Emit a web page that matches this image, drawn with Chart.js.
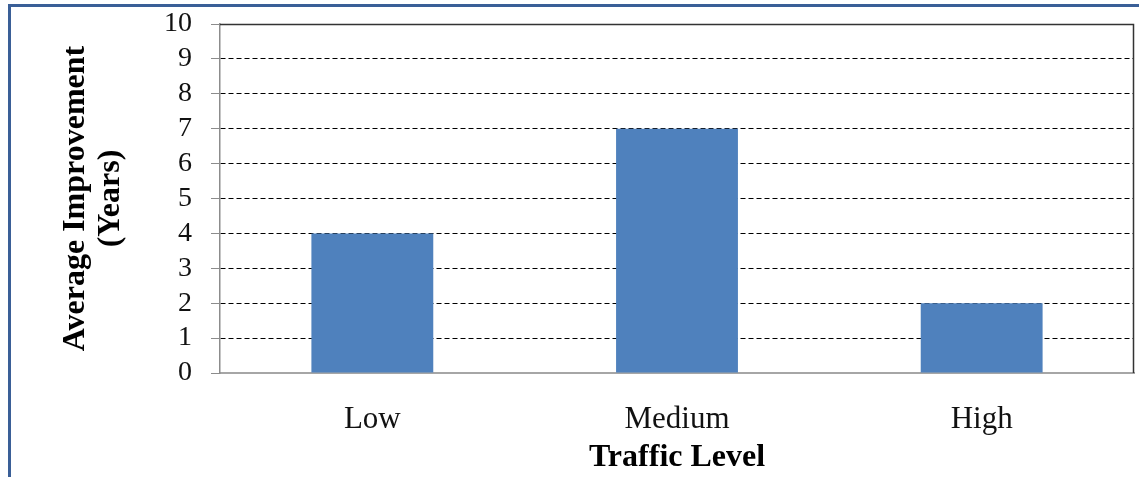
<!DOCTYPE html>
<html>
<head>
<meta charset="utf-8">
<script src="https://cdn.jsdelivr.net/npm/chart.js@4"></script>
<style>
html,body{margin:0;padding:0;background:#fff;}
#wrap{position:relative;width:1139px;height:477px;}
</style>
</head>
<body>
<div id="wrap"><canvas id="c" width="1139" height="477"></canvas></div>
<script>
const categories = ['Low', 'Medium', 'High'];
const improvementYears = [4, 7, 2];
const yTitle = ['Average Improvement', '(Years)'];
const xTitle = 'Traffic Level';
const yMin = 0, yMax = 10, yStep = 1;

const framePlugin = {
  id: 'frame',
  beforeDraw(chart) {
    const ctx = chart.ctx;
    ctx.save();
    ctx.fillStyle = '#3a5f97';
    ctx.fillRect(8, 4, 1139 - 8, 3);
    ctx.fillRect(8, 4, 3, 477 - 4);
    ctx.restore();
  },
  afterDraw(chart) {
    const a = chart.chartArea, ctx = chart.ctx;
    ctx.save();
    ctx.strokeStyle = '#333';
    ctx.lineWidth = 1.5;
    ctx.beginPath();
    ctx.moveTo(a.left, a.top + 0.5);
    ctx.lineTo(a.right - 0.5, a.top + 0.5);
    ctx.lineTo(a.right - 0.5, a.bottom);
    ctx.stroke();
    ctx.restore();
  }
};

new Chart(document.getElementById('c'), {
  type: 'bar',
  data: {
    labels: categories,
    datasets: [{
      data: improvementYears,
      backgroundColor: '#4f81bd',
      borderWidth: 0,
      categoryPercentage: 1.0,
      barPercentage: 0.4
    }]
  },
  options: {
    responsive: false,
    animation: false,
    devicePixelRatio: 1,
    layout: { padding: { left: 0, right: 5, top: 24, bottom: 0 } },
    plugins: { legend: { display: false }, tooltip: { enabled: false } },
    scales: {
      x: {
        afterFit(s) { s.height = 104; s.paddingLeft = 0; s.paddingRight = 0; },
        grid: { display: false, drawTicks: false },
        border: { display: true, color: '#a6a6a6', width: 2 },
        ticks: { color: '#111', padding: 28, font: { family: 'Liberation Serif', size: 31 } },
        title: {
          display: true, text: xTitle, color: '#000',
          padding: { top: 0, bottom: 1 },
          font: { family: 'Liberation Serif', size: 32, weight: 'bold', lineHeight: 1.15 }
        }
      },
      y: {
        min: yMin, max: yMax,
        afterFit(s) { s.width = 220; s.paddingTop = 0; s.paddingBottom = 0; },
        grid: {
          color: (c) => (c.tick && c.tick.value === 0) ? 'rgba(0,0,0,0)' : '#000',
          lineWidth: 1,
          drawTicks: true,
          tickLength: 9,
          tickColor: '#8c8c8c',
          tickBorderDash: []
        },
        border: { display: true, color: '#8c8c8c', width: 1.5, dash: [5, 3] },
        ticks: { stepSize: yStep, autoSkip: false, color: '#111', padding: 19, font: { family: 'Liberation Serif', size: 28 } },
        title: {
          display: true, text: yTitle, color: '#000',
          padding: { top: 58, bottom: 0 },
          font: { family: 'Liberation Serif', size: 32, weight: 'bold', lineHeight: 1.1 }
        }
      }
    }
  },
  plugins: [framePlugin]
});
</script>
</body>
</html>
